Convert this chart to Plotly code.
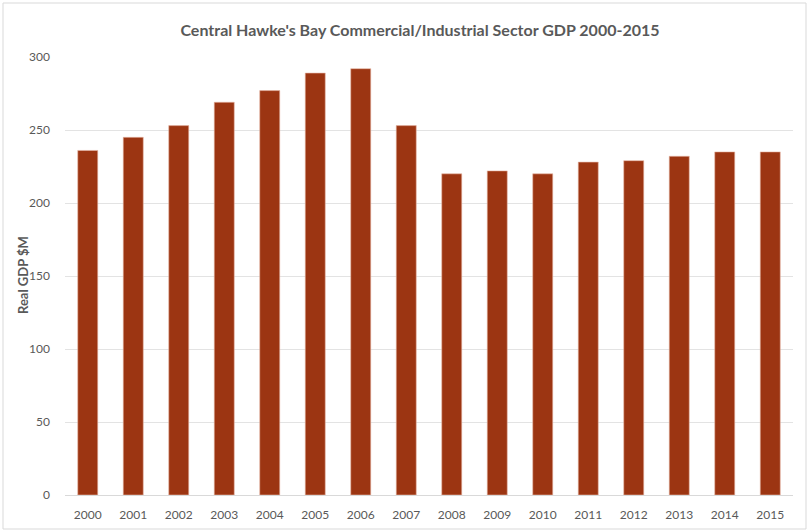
import plotly.graph_objects as go

years = ["2000", "2001", "2002", "2003", "2004", "2005", "2006", "2007",
         "2008", "2009", "2010", "2011", "2012", "2013", "2014", "2015"]
gdp = [236, 245, 253, 269, 277, 289, 292, 253, 220, 222, 220, 228, 229, 232, 235, 235]
y_ticks = [0, 50, 100, 150, 200, 250, 300]

L, R, T, B = 65, 19, 57, 36
W, H = 812, 531
pw, ph = W - L - R, H - T - B

def px(x):
    return (x - L) / pw

def py(y):
    return (H - B - y) / ph

fig = go.Figure(go.Bar(
    x=years, y=gdp,
    marker=dict(color="#9C3512", line=dict(color="#E8B9A8", width=0.6)),
    width=0.44,
))

fig.update_layout(
    width=W, height=H,
    margin=dict(l=L, r=R, t=T, b=B),
    paper_bgcolor="white", plot_bgcolor="white",
    font=dict(family="Lato, Open Sans, sans-serif", color="#595959", size=12),
    title=dict(text="Central Hawke's Bay Commercial/Industrial Sector GDP 2000-2015",
               x=(420) / W, xanchor="center", y=1 - 30 / H, yanchor="middle",
               font=dict(size=16, color="#595959", family="Lato, Open Sans, sans-serif", weight="bold")),
    showlegend=False,
    xaxis=dict(showgrid=False, showline=True, linecolor="#D9D9D9", ticks="",
               automargin=False,
               tickfont=dict(size=12, color="#595959"), ticklabelstandoff=9),
    yaxis=dict(range=[0, 300], tickvals=y_ticks, showgrid=True, gridcolor="#E3E3E3",
               zeroline=False, showline=False, ticks="", automargin=False,
               tickfont=dict(size=12, color="#595959"), ticklabelstandoff=14),
    annotations=[dict(text="<b>Real GDP $M</b>", xref="paper", yref="paper",
                      x=px(23), y=py(275), xanchor="center", yanchor="middle",
                      textangle=-90, showarrow=False,
                      font=dict(size=13, color="#595959"))],
    shapes=[dict(type="rect", xref="paper", yref="paper",
                 x0=px(3), x1=px(806), y0=py(529), y1=py(3),
                 line=dict(color="#D9D9D9", width=1), layer="below")],
)

fig.write_html("out.html")
